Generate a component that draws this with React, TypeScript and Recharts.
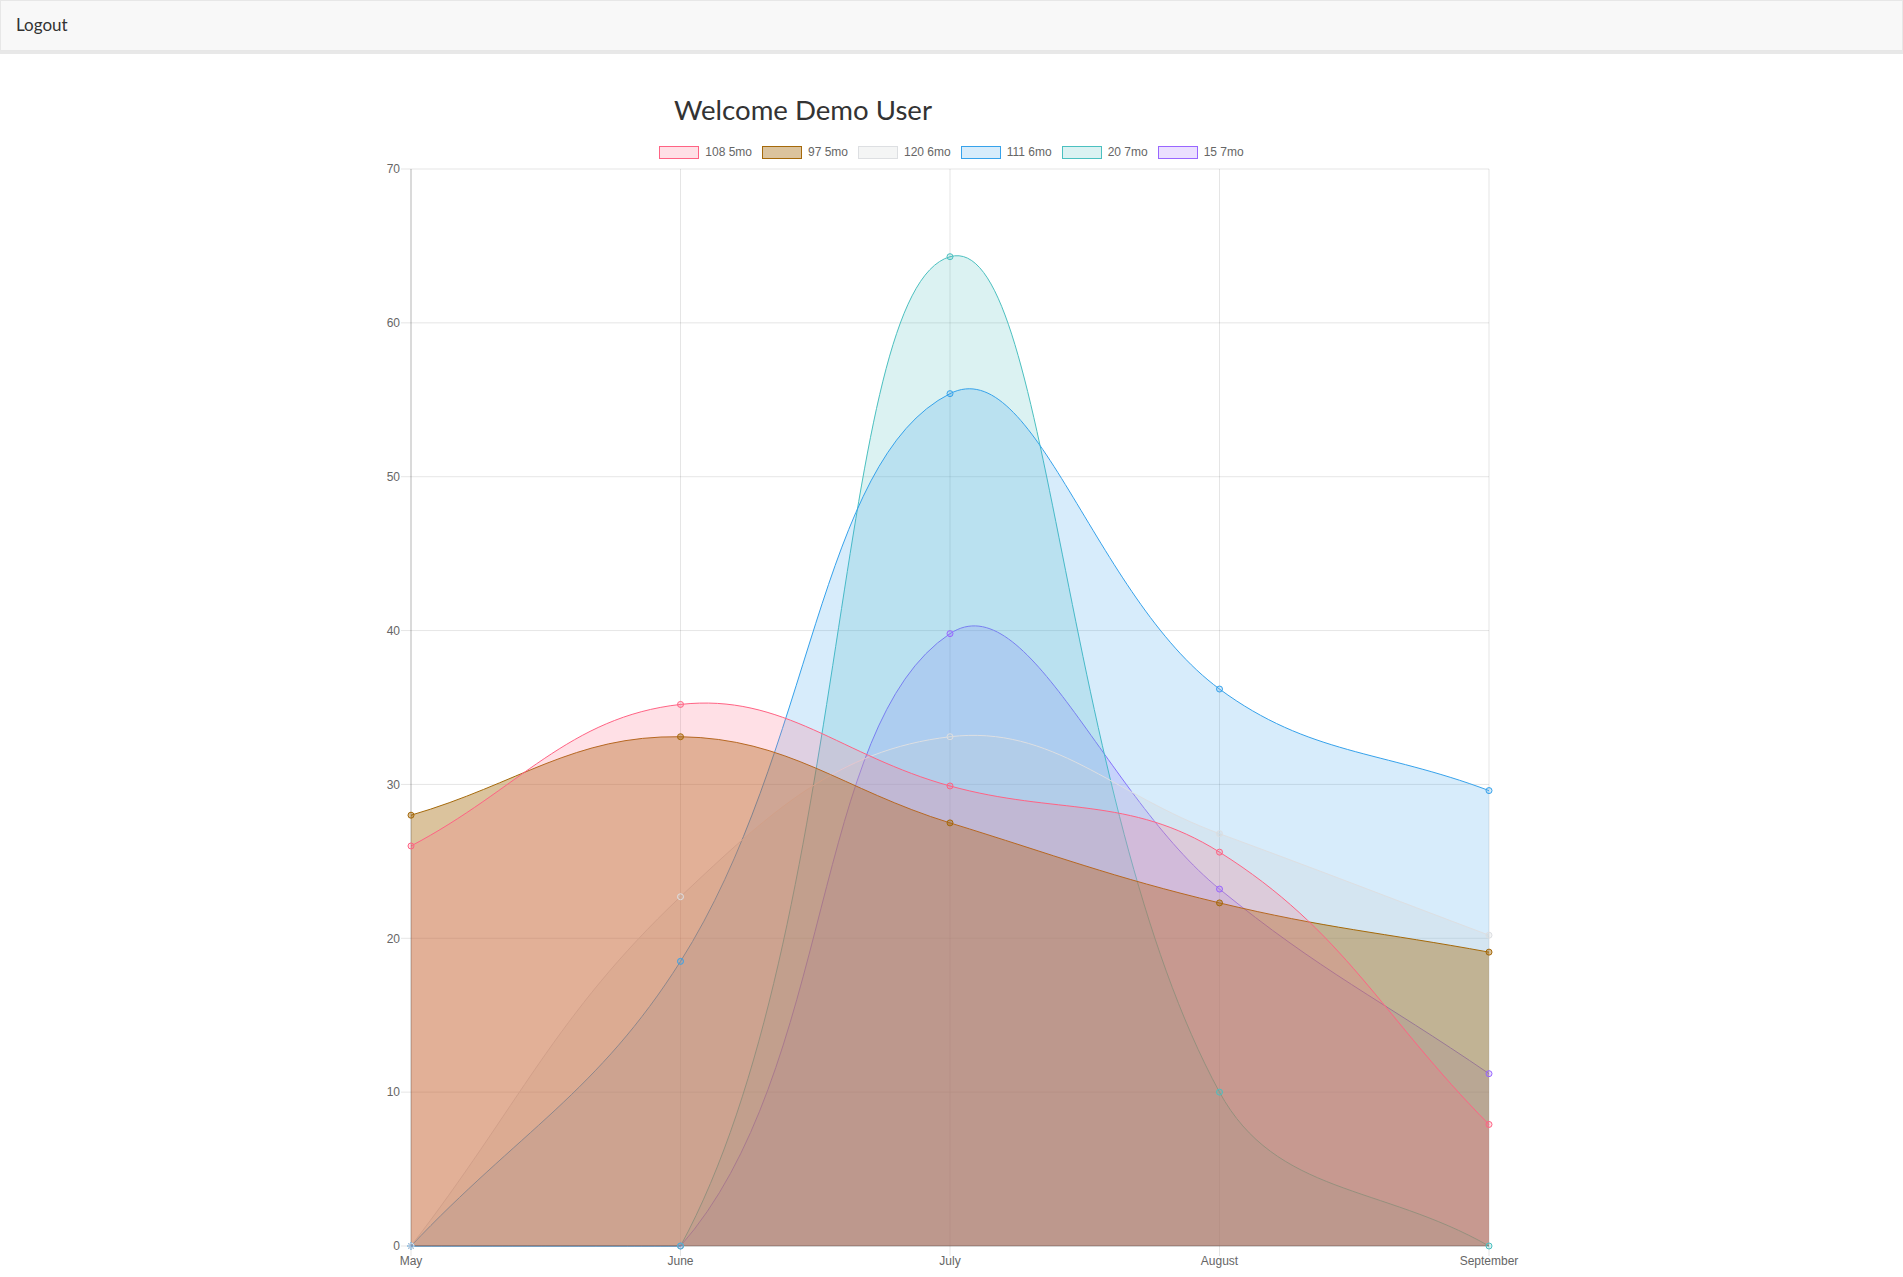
import React from 'react';
import { AreaChart, Area, XAxis, YAxis, CartesianGrid } from 'recharts';

// months on the x axis
const months = ['May', 'June', 'July', 'August', 'September'];

// one array per dataset
const s108 = [26, 35.2, 29.9, 25.6, 7.9];
const s97 = [28, 33.1, 27.5, 22.3, 19.1];
const s120 = [0, 22.7, 33.1, 26.8, 20.2];
const s111 = [0, 18.5, 55.4, 36.2, 29.6];
const s20 = [0, 0, 64.3, 10, 0];
const s15 = [0, 0, 39.8, 23.2, 11.2];

const yTicks = [0, 10, 20, 30, 40, 50, 60, 70];

const series = [
  { key: 's108', name: '108 5mo', values: s108, stroke: 'rgb(255,99,132)', fill: 'rgba(255,99,132,0.2)' },
  { key: 's97', name: '97 5mo', values: s97, stroke: 'rgb(165,105,10)', fill: 'rgba(165,105,10,0.4)' },
  { key: 's120', name: '120 6mo', values: s120, stroke: 'rgb(221,223,226)', fill: 'rgba(201,203,207,0.2)' },
  { key: 's111', name: '111 6mo', values: s111, stroke: 'rgb(54,162,235)', fill: 'rgba(54,162,235,0.2)' },
  { key: 's20', name: '20 7mo', values: s20, stroke: 'rgb(75,192,192)', fill: 'rgba(75,192,192,0.2)' },
  { key: 's15', name: '15 7mo', values: s15, stroke: 'rgb(153,102,255)', fill: 'rgba(153,102,255,0.2)' },
];

const data = months.map((month, i) => {
  const row: any = { month };
  series.forEach((s) => { row[s.key] = s.values[i]; });
  return row;
});

// layout of the canvas
const CHART_W = 1903;
const CHART_H = 1275;
const MARGIN = { top: 169, right: 414, bottom: 0, left: 351 };
const Y_AXIS_W = 60;
const X_AXIS_H = 29;

// chart area, only used to cap the bezier control points like Chart.js does
const AREA = {
  left: MARGIN.left + Y_AXIS_W,
  right: CHART_W - MARGIN.right,
  top: MARGIN.top,
  bottom: CHART_H - MARGIN.bottom - X_AXIS_H,
};

const cap = (v: number, lo: number, hi: number) => Math.max(Math.min(v, hi), lo);

// Chart.js v2 style spline (tension 0.4) as a d3 curve factory
const splineCurve = (context: any) => {
  let pts: number[][] = [];
  let line = NaN;
  const tension = 0.4;
  return {
    areaStart() { line = 0; },
    areaEnd() { line = NaN; },
    lineStart() { pts = []; },
    point(x: number, y: number) { pts.push([+x, +y]); },
    lineEnd() {
      const n = pts.length;
      if (n) {
        if (line) context.lineTo(pts[0][0], pts[0][1]);
        else context.moveTo(pts[0][0], pts[0][1]);
        const ctrl = pts.map((p, i) => {
          const prev = pts[Math.max(i - 1, 0)];
          const next = pts[Math.min(i + 1, n - 1)];
          const d01 = Math.hypot(p[0] - prev[0], p[1] - prev[1]);
          const d12 = Math.hypot(next[0] - p[0], next[1] - p[1]);
          const s01 = d01 / (d01 + d12) || 0;
          const s12 = d12 / (d01 + d12) || 0;
          const fa = tension * s01;
          const fb = tension * s12;
          return {
            px: cap(p[0] - fa * (next[0] - prev[0]), AREA.left, AREA.right),
            py: cap(p[1] - fa * (next[1] - prev[1]), AREA.top, AREA.bottom),
            nx: cap(p[0] + fb * (next[0] - prev[0]), AREA.left, AREA.right),
            ny: cap(p[1] + fb * (next[1] - prev[1]), AREA.top, AREA.bottom),
          };
        });
        for (let i = 1; i < n; i++) {
          context.bezierCurveTo(ctrl[i - 1].nx, ctrl[i - 1].ny, ctrl[i].px, ctrl[i].py, pts[i][0], pts[i][1]);
        }
      }
      if (line || (line !== 0 && n === 1)) context.closePath();
      line = 1 - line;
    },
  };
};

const tickStyle = { fill: '#666', fontSize: 12, fontFamily: '"Liberation Sans", Arial, sans-serif' };

const App: React.FC = () => {
  return (
    <div style={{ position: 'absolute', left: 0, top: 0, width: CHART_W, height: CHART_H }}>
      {/* navbar */}
      <div
        style={{
          position: 'absolute',
          left: 0,
          top: 0,
          width: CHART_W,
          height: 51,
          boxSizing: 'border-box',
          background: '#f8f8f8',
          border: '1px solid #e7e7e7',
          boxShadow: '0 3px 0 #e8e8e8',
          zIndex: 2,
        }}
      >
        <span
          style={{
            position: 'absolute',
            left: 15,
            top: 14,
            fontFamily: 'Lato, "Open Sans", sans-serif',
            fontSize: 17,
            lineHeight: '20px',
            color: '#333',
          }}
        >
          Logout
        </span>
      </div>

      {/* title */}
      <div
        style={{
          position: 'absolute',
          left: 674,
          top: 96,
          fontFamily: 'Lato, "Open Sans", sans-serif',
          fontSize: 27.6,
          lineHeight: '28px',
          color: '#333',
          whiteSpace: 'nowrap',
          zIndex: 2,
        }}
      >
        Welcome Demo User
      </div>

      {/* legend */}
      <div
        style={{
          position: 'absolute',
          left: 0,
          top: 146,
          width: CHART_W,
          display: 'flex',
          justifyContent: 'center',
          fontFamily: '"Liberation Sans", Arial, sans-serif',
          fontSize: 12,
          color: '#666',
          zIndex: 2,
        }}
      >
        {series.map((s) => (
          <div key={s.key} style={{ display: 'flex', alignItems: 'center', margin: '0 5px' }}>
            <span
              style={{
                display: 'inline-block',
                width: 40,
                height: 13,
                boxSizing: 'border-box',
                background: s.fill,
                border: `1px solid ${s.stroke}`,
                marginRight: 6,
              }}
            />
            <span style={{ lineHeight: '13px', whiteSpace: 'nowrap' }}>{s.name}</span>
          </div>
        ))}
      </div>

      <div style={{ position: 'absolute', left: 0, top: 0 }}>
        <AreaChart width={CHART_W} height={CHART_H} data={data} margin={MARGIN}>
          <CartesianGrid stroke="rgba(0,0,0,0.1)" />
          <XAxis
            dataKey="month"
            interval={0}
            height={X_AXIS_H}
            tick={tickStyle}
            tickSize={10}
            tickMargin={0}
            tickLine={{ stroke: 'rgba(0,0,0,0.1)' }}
            axisLine={{ stroke: 'rgba(0,0,0,0.25)' }}
          />
          <YAxis
            domain={[0, 70]}
            ticks={yTicks}
            width={Y_AXIS_W}
            tick={tickStyle}
            tickSize={10}
            tickMargin={1}
            tickLine={{ stroke: 'rgba(0,0,0,0.1)' }}
            axisLine={{ stroke: 'rgba(0,0,0,0.2)' }}
          />
          {/* Chart.js paints the first dataset last, so go in reverse */}
          {[...series].reverse().map((s) => (
            <Area
              key={s.key}
              dataKey={s.key}
              name={s.name}
              type={splineCurve as any}
              stroke={s.stroke}
              strokeWidth={1}
              fill={s.fill}
              fillOpacity={1}
              dot={{ r: 3, fill: s.fill, fillOpacity: 1, stroke: s.stroke, strokeWidth: 1 }}
              activeDot={false}
              isAnimationActive={false}
            />
          ))}
        </AreaChart>
      </div>
    </div>
  );
};

export default App;
